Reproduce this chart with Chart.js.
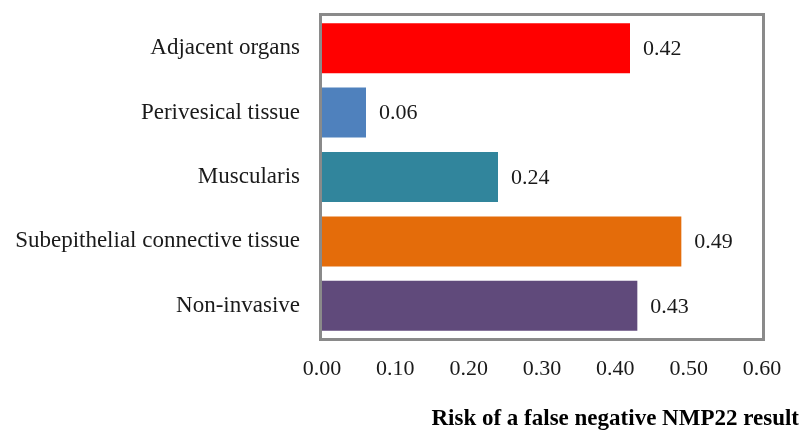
<!DOCTYPE html>
<html>
<head>
<meta charset="utf-8">
<script src="https://cdn.jsdelivr.net/npm/chart.js@4"></script>
<style>
  html, body { margin: 0; padding: 0; background: #fff; }
  #wrap { width: 802px; height: 430px; }
</style>
</head>
<body>
<div id="wrap"><canvas id="riskChart" width="802" height="430"></canvas></div>
<script>
// data
const categories = ['Adjacent organs', 'Perivesical tissue', 'Muscularis', 'Subepithelial connective tissue', 'Non-invasive'];
const riskValues = [0.42, 0.06, 0.24, 0.49, 0.43];
const barColors = ['#FF0000', '#4F81BD', '#31859C', '#E46C0A', '#604A7B'];
const xTicks = [0, 0.1, 0.2, 0.3, 0.4, 0.5, 0.6];
const axisTitle = 'Risk of a false negative NMP22 result';

const serif = '"Liberation Serif", "DejaVu Serif", serif';

// grey frame around the plot area
const framePlugin = {
  id: 'frame',
  afterDatasetsDraw(chart) {
    const { ctx, chartArea: a } = chart;
    ctx.save();
    ctx.strokeStyle = '#8a8a8a';
    ctx.lineWidth = 3;
    ctx.strokeRect(a.left - 1.5, a.top - 1.5, a.right - a.left + 3, a.bottom - a.top + 3);
    ctx.restore();
  }
};

// value labels to the right of each bar
const valueLabels = {
  id: 'valueLabels',
  afterDatasetsDraw(chart) {
    const { ctx } = chart;
    const meta = chart.getDatasetMeta(0);
    ctx.save();
    ctx.font = '22px ' + serif;
    ctx.fillStyle = '#1a1a1a';
    ctx.textAlign = 'left';
    ctx.textBaseline = 'middle';
    meta.data.forEach((bar, i) => {
      ctx.fillText(riskValues[i].toFixed(2), bar.x + 13, bar.y + 1);
    });
    ctx.restore();
  }
};

// bold axis title, sits off to the right like the original
const titlePlugin = {
  id: 'axisTitle',
  afterDraw(chart) {
    const { ctx } = chart;
    ctx.save();
    ctx.font = 'bold 23px ' + serif;
    ctx.fillStyle = '#000';
    ctx.textAlign = 'right';
    ctx.textBaseline = 'alphabetic';
    ctx.fillText(axisTitle, 799, 425);
    ctx.restore();
  }
};

const chart = new Chart(document.getElementById('riskChart').getContext('2d'), {
  type: 'bar',
  data: {
    labels: categories,
    datasets: [{
      data: riskValues,
      backgroundColor: barColors,
      borderWidth: 0,
      barPercentage: 0.777,
      categoryPercentage: 1
    }]
  },
  options: {
    indexAxis: 'y',
    responsive: false,
    animation: false,
    layout: { padding: { top: 16, right: 40, bottom: 0, left: 0 } },
    plugins: {
      legend: { display: false },
      tooltip: { enabled: false }
    },
    scales: {
      x: {
        min: 0,
        max: 0.6,
        afterBuildTicks(scale) {
          scale.ticks = xTicks.map(v => ({ value: v }));
        },
        afterFit(scale) { scale.height = 92; },
        grid: { display: false, drawTicks: false },
        border: { display: false },
        ticks: {
          padding: 18,
          color: '#1a1a1a',
          font: { family: serif, size: 22 },
          callback: v => Number(v).toFixed(2)
        }
      },
      y: {
        afterFit(scale) {
          scale.width = 322;
          scale.paddingTop = 0;
          scale.paddingBottom = 0;
        },
        grid: { display: false, drawTicks: false },
        border: { display: false },
        ticks: {
          padding: 22,
          color: '#1a1a1a',
          font: { family: serif, size: 23 }
        }
      }
    }
  },
  plugins: [framePlugin, valueLabels, titlePlugin]
});
</script>
</body>
</html>
